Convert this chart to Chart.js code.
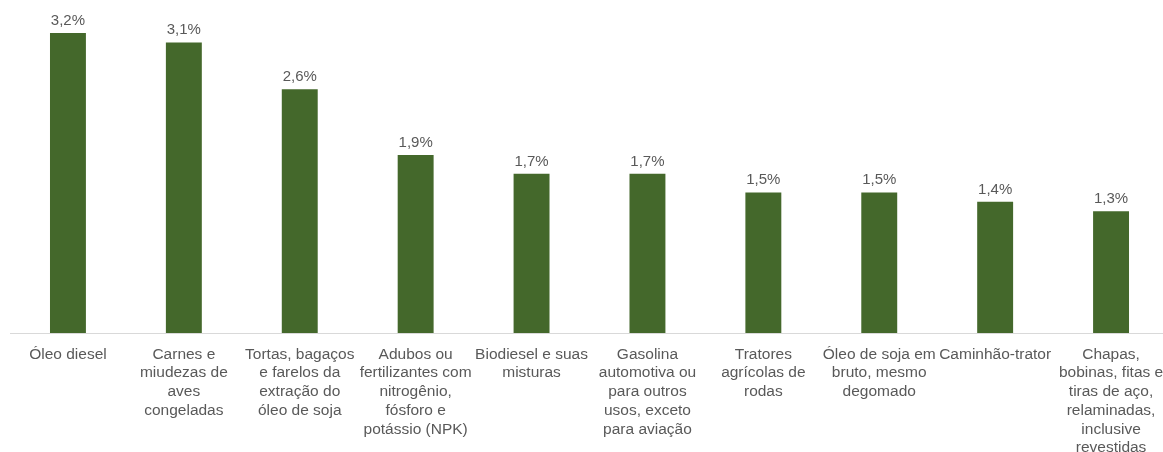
<!DOCTYPE html>
<html>
<head>
<meta charset="utf-8">
<script src="https://cdn.jsdelivr.net/npm/chart.js@4/dist/chart.umd.min.js"></script>
<style>
  html, body { margin: 0; padding: 0; background: #fff; overflow: hidden; }
  #wrap { width: 1163px; height: 452px; overflow: hidden; }
  canvas { display: block; }
</style>
</head>
<body>
<div id="wrap"><canvas id="chart" width="1170" height="452"></canvas></div>
<script>
// categorias (quebradas em linhas como no original)
const categorias = [
  ['Óleo diesel'],
  ['Carnes e', 'miudezas de', 'aves', 'congeladas'],
  ['Tortas, bagaços', 'e farelos da', 'extração do', 'óleo de soja'],
  ['Adubos ou', 'fertilizantes com', 'nitrogênio,', 'fósforo e', 'potássio (NPK)'],
  ['Biodiesel e suas', 'misturas'],
  ['Gasolina', 'automotiva ou', 'para outros', 'usos, exceto', 'para aviação'],
  ['Tratores', 'agrícolas de', 'rodas'],
  ['Óleo de soja em', 'bruto, mesmo', 'degomado'],
  ['Caminhão-trator'],
  ['Chapas,', 'bobinas, fitas e', 'tiras de aço,', 'relaminadas,', 'inclusive', 'revestidas']
];
const valores = [3.2, 3.1, 2.6, 1.9, 1.7, 1.7, 1.5, 1.5, 1.4, 1.3];

const fonte = '"Liberation Sans", Arial, sans-serif';
const corTexto = '#595959';

// rótulos de valor acima das barras
const rotulosPlugin = {
  id: 'rotulos',
  afterDatasetsDraw(chart) {
    const ctx = chart.ctx;
    const meta = chart.getDatasetMeta(0);
    ctx.save();
    ctx.font = '15px ' + fonte;
    ctx.fillStyle = corTexto;
    ctx.textAlign = 'center';
    ctx.textBaseline = 'alphabetic';
    meta.data.forEach((bar, i) => {
      const txt = valores[i].toFixed(1).replace('.', ',') + '%';
      ctx.fillText(txt, bar.x, bar.y - 8);
    });
    ctx.restore();
  }
};

new Chart(document.getElementById('chart'), {
  type: 'bar',
  data: {
    labels: categorias,
    datasets: [{
      data: valores,
      backgroundColor: '#44682b',
      barPercentage: 0.31,
      categoryPercentage: 1
    }]
  },
  options: {
    responsive: false,
    animation: false,
    devicePixelRatio: 1,
    layout: { padding: { top: 33, left: 10, right: 1, bottom: 0 } },
    plugins: {
      legend: { display: false },
      tooltip: { enabled: false }
    },
    scales: {
      x: {
        grid: { display: false, drawTicks: false },
        border: { display: true, color: '#d9d9d9', width: 1 },
        ticks: {
          autoSkip: false,
          maxRotation: 0,
          minRotation: 0,
          padding: 12,
          color: corTexto,
          font: { family: fonte, size: 15.5, lineHeight: 1.21 }
        },
        // a última legenda passa da borda, como no original
        afterFit(scale) {
          scale.paddingLeft = 0;
          scale.paddingRight = 0;
          scale.height = 119;
        }
      },
      y: {
        display: false,
        min: 0,
        max: 3.2
      }
    }
  },
  plugins: [rotulosPlugin]
});
</script>
</body>
</html>
